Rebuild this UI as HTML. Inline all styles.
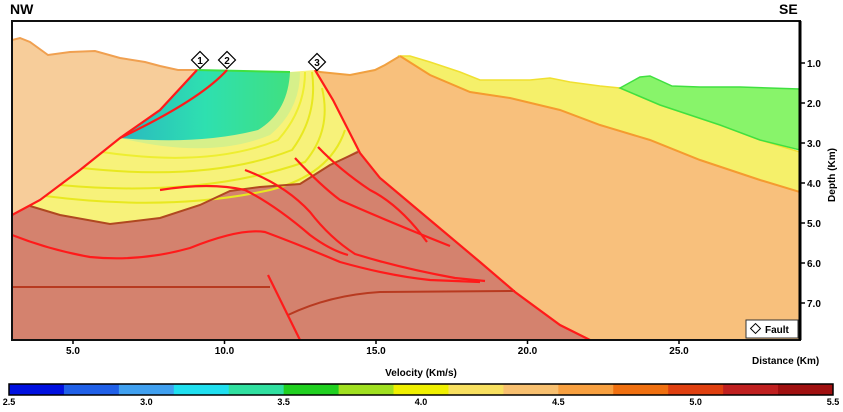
<!DOCTYPE html>
<html><head><meta charset="utf-8"><style>
body{margin:0;background:#fff;width:843px;height:407px;overflow:hidden;font-family:"Liberation Sans",sans-serif}
svg text{font-family:"Liberation Sans",sans-serif;font-weight:bold}
</style></head><body>
<svg id="chart" width="843" height="407" viewBox="0 0 843 407" xmlns="http://www.w3.org/2000/svg">
<defs>
<linearGradient id="tealg" x1="0" y1="0" x2="1" y2="0">
<stop offset="0" stop-color="#2ab8c0"/><stop offset="0.5" stop-color="#2ee0b0"/><stop offset="1" stop-color="#40e080"/></linearGradient>
<clipPath id="plotclip"><rect x="12" y="21" width="788" height="319"/></clipPath>
</defs>
<text x="10" y="14" font-size="14">NW</text>
<text x="779" y="14" font-size="14">SE</text>
<g clip-path="url(#plotclip)">
<rect x="12" y="21" width="788" height="319" fill="#fff"/>
<path d="M12,215 L30,206 L60,215 L110,224 L160,218 L200,205 L230,191 L260,187 L300,184 L330,165 L358,150 L362,156 L380,178 L430,220 L480,262 L515,292 L560,325 L590,340 L12,340 Z" fill="#d4826e"/>
<path d="M12,40 L20,38 L30,42 L48,55 L70,52 L95,51 L120,58 L145,62 L160,66 L178,70 L197,70 L160,110 L120,138 L80,170 L40,200 L12,215 Z" fill="#f7cd9a"/>
<path d="M12,40 L20,38 L30,42 L48,55 L70,52 L95,51 L120,58 L145,62 L160,66 L178,70 L197,70" fill="none" stroke="#f0a050" stroke-width="2"/>
<path d="M197,70 L290,72 L315,70 L333,100 L358,150 L330,165 L300,184 L260,187 L230,191 L200,205 L160,218 L110,224 L60,215 L30,206 L40,200 L80,170 L120,138 L160,110 Z" fill="#f7f27a"/>
<path d="M120,138 Q210,160 270,135 Q300,110 300,72 L290,72 Z" fill="#d6f08a"/>
<path d="M102,152 Q210,168 278,140 Q305,110 305,72" fill="none" stroke="#eeee30" stroke-width="2"/>
<path d="M82,168 Q210,182 292,150 Q318,115 312,72" fill="none" stroke="#e8e820" stroke-width="2"/>
<path d="M60,185 Q200,198 305,162 Q332,130 322,88" fill="none" stroke="#e8e820" stroke-width="2"/>
<path d="M45,196 Q170,212 270,190 Q330,175 345,130" fill="none" stroke="#e8e820" stroke-width="2"/>
<path d="M197,70 L290,72 Q288,112 258,130 Q200,145 120,138 L160,110 Z" fill="url(#tealg)"/>
<path d="M197,70 L290,72" stroke="#40e040" stroke-width="2"/>
<path d="M315,70 L320,72 L350,75 L375,70 L385,65 L400,56 L430,75 L470,92 L510,98 L560,110 L600,125 L650,140 L700,160 L760,180 L800,192 L800,340 L590,340 L560,325 L515,292 L480,262 L430,220 L380,178 L360,153 L333,100 Z" fill="#f8c07c"/>
<path d="M315,70 L320,72 L350,75 L375,70 L385,65 L400,56" fill="none" stroke="#f0a040" stroke-width="2"/>
<path d="M400,56 L410,56 L430,62 L460,72 L480,80 L510,80 L530,80 L550,78 L570,82 L600,86 L620,88 L660,105 L720,125 L760,140 L800,152 L800,192 L760,180 L700,160 L650,140 L600,125 L560,110 L510,98 L470,92 L430,75 Z" fill="#f5f06a" stroke="#f0e030" stroke-width="1.5"/>
<path d="M400,56 L430,75 L470,92 L510,98 L560,110 L600,125 L650,140 L700,160 L760,180 L800,192" fill="none" stroke="#f59a30" stroke-width="2"/>
<path d="M620,88 L640,77 L650,76 L672,86 L700,87 L740,87 L800,89 L800,150 L760,140 L720,125 L660,105 Z" fill="#88f46a" stroke="#40e040" stroke-width="1.5"/>
<path d="M30,206 L60,215 L110,224 L160,218 L200,205 L230,191 L260,187 L300,184 L330,165 L358,152" fill="none" stroke="#b04820" stroke-width="2"/>
<path d="M12,287 L270,287" stroke="#b83a20" stroke-width="2"/>
<path d="M288,315 Q330,295 380,292 L515,291" fill="none" stroke="#b83a20" stroke-width="2"/>
<g fill="none" stroke="#ff1a1a" stroke-width="2.2">
<path d="M197,70 L160,110 L120,138 L80,170 L40,200 L12,215"/>
<path d="M227,70 Q200,100 120,138"/>
<path d="M315,70 L333,100 L360,153 L380,178 L430,220 L480,262 L515,292 L560,325 L590,340"/>
<path d="M12,235 Q50,250 90,257 Q140,262 190,248 Q240,228 265,232 Q300,245 340,262 Q390,276 430,280 L480,282"/>
<path d="M160,190 Q210,182 245,190 Q275,205 310,235 Q330,250 348,255"/>
<path d="M245,170 Q285,185 310,212 Q330,238 355,254 Q400,268 455,278 L485,281"/>
<path d="M295,158 Q320,185 340,200 Q380,218 450,246"/>
<path d="M318,147 Q340,170 370,190 Q400,205 427,242"/>
<path d="M268,275 L300,340"/>
</g>
</g>
<rect x="12" y="21" width="788" height="319" fill="none" stroke="#111" stroke-width="2"/>
<line x1="800" y1="21" x2="800" y2="340" stroke="#000" stroke-width="3"/>
<g>
<g transform="translate(200,60)"><rect x="-6" y="-6" width="12" height="12" transform="rotate(45)" fill="#fff" stroke="#000" stroke-width="1.2"/><text y="4" font-size="10" text-anchor="middle" font-weight="normal">1</text></g>
<g transform="translate(227,60)"><rect x="-6" y="-6" width="12" height="12" transform="rotate(45)" fill="#fff" stroke="#000" stroke-width="1.2"/><text y="4" font-size="10" text-anchor="middle" font-weight="normal">2</text></g>
<g transform="translate(317,62)"><rect x="-6" y="-6" width="12" height="12" transform="rotate(45)" fill="#fff" stroke="#000" stroke-width="1.2"/><text y="4" font-size="10" text-anchor="middle" font-weight="normal">3</text></g>
</g>
<g>
<rect x="746" y="320" width="52" height="18" fill="#fff" stroke="#333"/>
<rect x="752" y="325" width="7" height="7" transform="rotate(45 755.5 328.5)" fill="#fff" stroke="#000"/>
<text x="765" y="333" font-size="10">Fault</text>
</g>
<g id="axes"></g>
<text x="752" y="364" font-size="10">Distance (Km)</text>
<text x="421" y="376" font-size="10" text-anchor="middle">Velocity (Km/s)</text>
<text transform="translate(835,175) rotate(-90)" font-size="10" text-anchor="middle">Depth (Km)</text>
<g id="colorbar"></g>
</svg>
<script>
const xTicks=[5.0,10.0,15.0,20.0,25.0];
const depthTicks=[1.0,2.0,3.0,4.0,5.0,6.0,7.0];
const cbTicks=[2.5,3.0,3.5,4.0,4.5,5.0,5.5];
const cbColors=["#0010e0","#2060e8","#40a0f0","#20e0f0","#30e0a0","#20d020","#a0e020","#f0f000","#f8e060","#f8c070","#f8a040","#f07010","#e04010","#c02020","#a01010"];
const NS="http://www.w3.org/2000/svg";
const xS=v=>73+(v-5)*30.3;
const yS=v=>23+v*40;
const cS=v=>9+(v-2.5)/3*824;
const ax=document.getElementById('axes');
function mk(tag,attrs,parent){const e=document.createElementNS(NS,tag);for(const k in attrs)e.setAttribute(k,attrs[k]);parent.appendChild(e);return e;}
xTicks.forEach(v=>{
 const t=mk('line',{x1:xS(v),x2:xS(v),y1:340,y2:344,stroke:'#000','stroke-width':1.5},ax);
 
 
 const l=mk('text',{x:xS(v),y:354,'font-size':10,'text-anchor':'middle'},ax);
 l.textContent=v.toFixed(1);
 
 
});
depthTicks.forEach(v=>{
 const t=mk('line',{x1:800,x2:805,y1:yS(v),y2:yS(v),stroke:'#000','stroke-width':1.5},ax);
 
 
 const l=mk('text',{x:807,y:yS(v)+4,'font-size':10},ax);
 l.textContent=v.toFixed(1);
 
 
});
const cb=document.getElementById('colorbar');
const w=(cS(5.5)-cS(2.5))/cbColors.length;
cbColors.forEach((c,i)=>{
 const r=mk('rect',{x:cS(2.5)+i*w,y:384,width:w+0.5,height:11,fill:c},cb);
 
 
});
const fr=mk('rect',{x:cS(2.5),y:384,width:cS(5.5)-cS(2.5),height:11,fill:'none',stroke:'#000','stroke-width':1.5},cb);


cbTicks.forEach(v=>{
 const l=mk('text',{x:cS(v),y:405,'font-size':9,'text-anchor':'middle','font-weight':'normal'},cb);
 l.textContent=v.toFixed(1);
 
 
});
</script>
</body></html>
